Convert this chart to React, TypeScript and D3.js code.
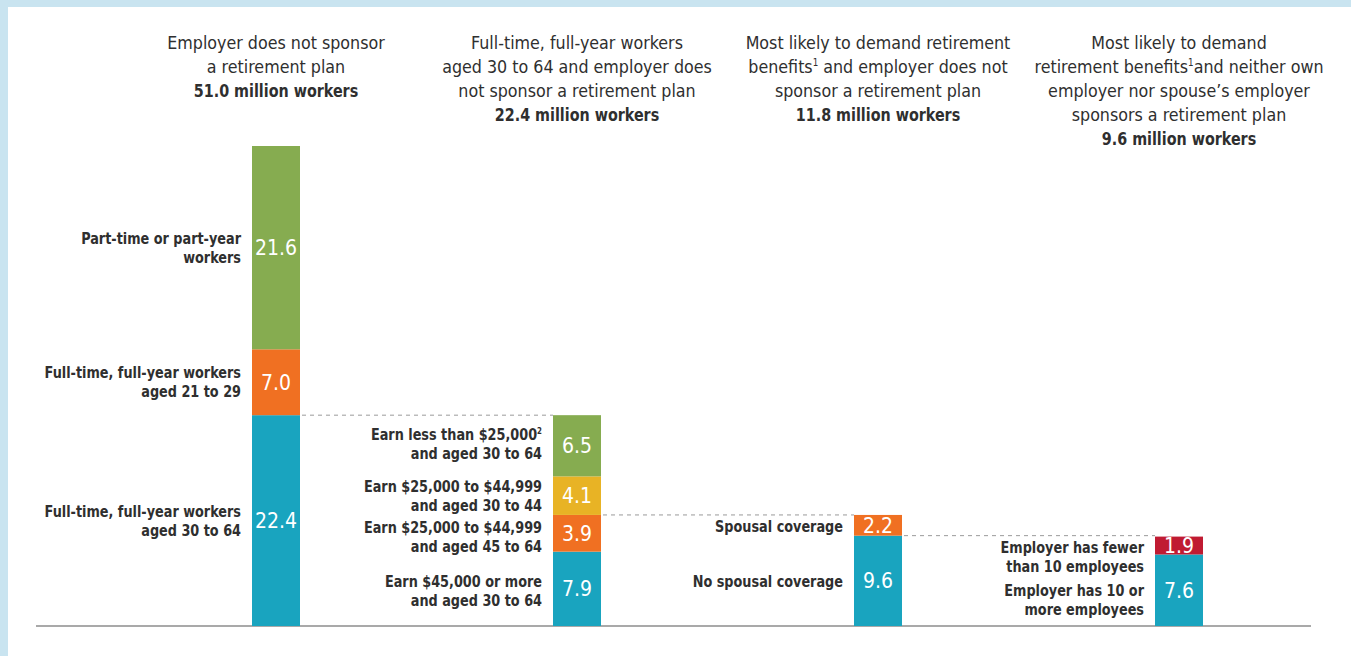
import React from "react";
import * as d3 from "d3";

// ---- Data ----
const barKeys = ["all", "fullTime", "likely", "neither"];

const titleLines = [
  ["Employer does not sponsor", "a retirement  plan"],
  ["Full-time, full-year workers", "aged 30 to 64 and employer does", "not sponsor a retirement plan"],
  ["Most likely to demand retirement", "benefits¹ and employer does not", "sponsor a retirement plan"],
  ["Most likely to demand", "retirement benefits¹and neither own", "employer nor spouse’s employer", "sponsors a retirement plan"],
];
const totals = [51.0, 22.4, 11.8, 9.6];

const bar1Values = [22.4, 7.0, 21.6];
const bar1Labels = [
  ["Full-time, full-year workers", "aged 30 to 64"],
  ["Full-time, full-year workers", "aged 21 to 29"],
  ["Part-time or part-year", "workers"],
];
const bar1Colors = ["#19a4bf", "#f07022", "#86ac50"];

const bar2Values = [7.9, 3.9, 4.1, 6.5];
const bar2Labels = [
  ["Earn $45,000 or more", "and aged 30 to 64"],
  ["Earn $25,000 to $44,999", "and aged 45 to 64"],
  ["Earn $25,000 to $44,999", "and aged 30 to 44"],
  ["Earn less than $25,000²", "and aged 30 to 64"],
];
const bar2Colors = ["#19a4bf", "#f07022", "#e8b325", "#86ac50"];

const bar3Values = [9.6, 2.2];
const bar3Labels = [["No spousal coverage"], ["Spousal coverage"]];
const bar3Colors = ["#19a4bf", "#f07022"];

const bar4Values = [7.6, 1.9];
const bar4Labels = [
  ["Employer has 10 or", "more employees"],
  ["Employer has fewer", "than 10 employees"],
];
const bar4Colors = ["#19a4bf", "#c01b32"];

const allValues = [bar1Values, bar2Values, bar3Values, bar4Values];
const allLabels = [bar1Labels, bar2Labels, bar3Labels, bar4Labels];
const allColors = [bar1Colors, bar2Colors, bar3Colors, bar4Colors];

// ---- Layout ----
const W = 1351;
const H = 656;
const baseY = 626;
const barW = 48;
const FONT = "'Liberation Sans Narrow', 'DejaVu Sans Condensed', 'Roboto', sans-serif";
const TEXT = "#2f2f2f";
const LABEL_SIZE = 15.6;
const LABEL_SX = 0.915;
const TITLE_SIZE = 17.7;
const TOTAL_SIZE = 17.5;
const TOTAL_SX = 0.91;
// vertical nudges for side labels
const labelShift = [[0, 0, 0], [2, 4, 0, -2], [1, 1], [10, 11]];

function renderSup(line: string, size: number) {
  const m = line.match(/^(.*?)([¹²])(.*)$/);
  if (!m) return line;
  const sup = m[2] === "¹" ? "1" : "2";
  return (
    <>
      {m[1]}
      <tspan fontSize={size * 0.55} dy={-size * 0.4}>{sup}</tspan>
      <tspan dy={size * 0.4}>{m[3]}</tspan>
    </>
  );
}

export default function App() {
  const y = d3.scaleLinear().domain([0, 51]).range([baseY, 146]);
  const x = d3.scalePoint<string>().domain(barKeys).range([276, 1179]);

  const bars = barKeys.map((k, i) => {
    const vals = allValues[i];
    const stack = d3.cumsum(vals);
    return vals.map((v, j) => ({
      v,
      y0: j === 0 ? 0 : stack[j - 1],
      y1: stack[j],
      color: allColors[i][j],
      label: allLabels[i][j],
      shift: labelShift[i][j] || 0,
    }));
  });

  return (
    <svg
      width={W}
      height={H}
      style={{ position: "absolute", left: 0, top: 0, fontFamily: FONT }}
    >
      <rect x={0} y={0} width={W} height={H} fill="#c9e4f0" />
      <rect x={8} y={7} width={W - 8} height={H - 7} fill="#ffffff" />

      {/* baseline */}
      <line x1={36} x2={1311} y1={baseY} y2={baseY} stroke="#a9a9a9" strokeWidth={2} />

      {/* dashed connectors */}
      {barKeys.slice(0, -1).map((k, i) => {
        const next = barKeys[i + 1];
        const yy = y(totals[i + 1]);
        return (
          <line
            key={"d" + k}
            x1={(x(k) as number) + barW / 2 + 2}
            x2={(x(next) as number) - barW / 2}
            y1={yy}
            y2={yy}
            stroke="#9a9a9a"
            strokeWidth={1}
            strokeDasharray="4 4"
          />
        );
      })}

      {/* titles */}
      {barKeys.map((k, i) => {
        const lines = titleLines[i];
        const cx = x(k) as number;
        return (
          <g key={"t" + k}>
            <text x={cx} textAnchor="middle" fill={TEXT}>
              {lines.map((l, j) => (
                <tspan key={j} x={cx} y={49 + j * 24} fontSize={TITLE_SIZE}>
                  {renderSup(l, TITLE_SIZE)}
                </tspan>
              ))}
            </text>
            <text
              transform={`translate(${cx},${49 + lines.length * 24}) scale(${TOTAL_SX},1)`}
              textAnchor="middle"
              fill={TEXT}
              fontSize={TOTAL_SIZE}
              fontWeight="bold"
            >
              {`${totals[i].toFixed(1)} million workers`}
            </text>
          </g>
        );
      })}

      {/* bars */}
      {barKeys.map((k, i) => {
        const cx = x(k) as number;
        const lx = cx - barW / 2 - 11;
        return (
          <g key={"b" + k}>
            {bars[i].map((s, j) => {
              const top = y(s.y1);
              const bot = y(s.y0);
              const mid = (top + bot) / 2;
              const n = s.label.length;
              return (
                <g key={j}>
                  <rect x={cx - barW / 2} y={top} width={barW} height={bot - top} fill={s.color} />
                  <text
                    x={cx}
                    y={mid + 7.5}
                    textAnchor="middle"
                    fill="#ffffff"
                    fontSize={21}
                  >
                    {s.v.toFixed(1)}
                  </text>
                  <text
                    transform={`translate(${lx},${mid + s.shift + 5.5}) scale(${LABEL_SX},1)`}
                    textAnchor="end"
                    fill={TEXT}
                    fontSize={LABEL_SIZE}
                    fontWeight="bold"
                  >
                    {s.label.map((l, li) => (
                      <tspan key={li} x={0} y={(li - (n - 1) / 2) * 19}>
                        {renderSup(l, LABEL_SIZE)}
                      </tspan>
                    ))}
                  </text>
                </g>
              );
            })}
          </g>
        );
      })}
    </svg>
  );
}
